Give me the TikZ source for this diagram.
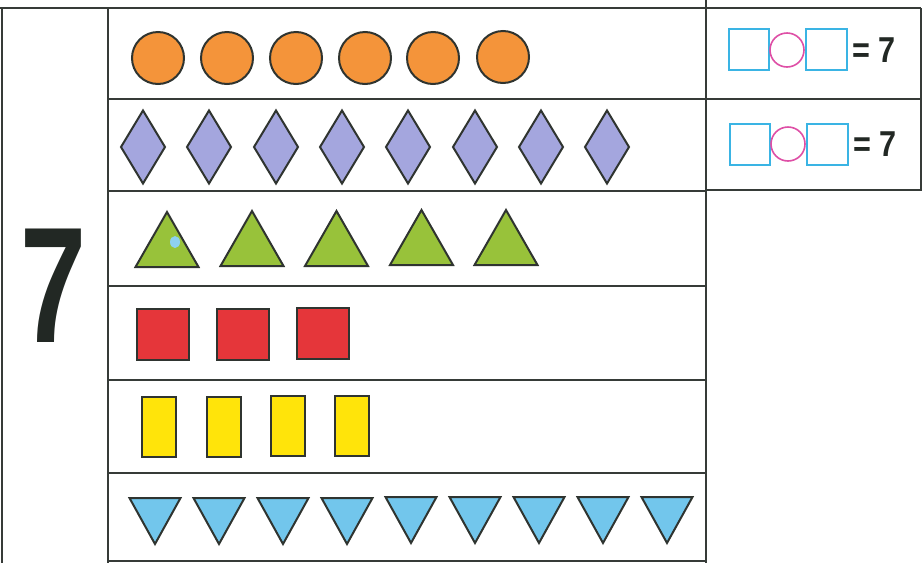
\documentclass[tikz,border=0pt]{standalone}
\usepackage{fontspec}
\setmainfont{Liberation Sans}
\usepackage{xcolor}
\usepackage{tikz}
\definecolor{WSLine}{HTML}{363B38}
\definecolor{WSEdge}{HTML}{2F3430}
\definecolor{WSOrange}{HTML}{F4943A}
\definecolor{WSLilac}{HTML}{A4A6DE}
\definecolor{WSGreen}{HTML}{98C23A}
\definecolor{WSRed}{HTML}{E5363A}
\definecolor{WSYellow}{HTML}{FFE40A}
\definecolor{WSSky}{HTML}{72C6EC}
\definecolor{WSCyan}{HTML}{3AB4E4}
\definecolor{WSPink}{HTML}{DE4FA6}
\definecolor{WSInk}{HTML}{222824}

\begin{document}
\begin{tikzpicture}[x=1pt,y=-1pt,
  grid/.style={draw=WSLine,line width=2.6pt},
  shp/.style={draw=WSEdge,line width=2pt},
  box/.style={draw=WSCyan,line width=1.6pt},
  ring/.style={draw=WSPink,line width=1.6pt}]
\path[use as bounding box] (0,0) rectangle (923,563);
% table lines
\draw[grid] (0,8) -- (921,8);
\draw[grid] (2,8) -- (2,563);
\draw[grid] (108,8) -- (108,563);
\draw[grid] (706,0) -- (706,563);
\draw[grid] (921,8) -- (921,190) -- (706,190);
\draw[grid] (108,99) -- (921,99);
\draw[grid] (108,191) -- (706,191);
\draw[grid] (108,286) -- (706,286);
\draw[grid] (108,380) -- (706,380);
\draw[grid] (108,473) -- (706,473);
\draw[grid] (108,561) -- (706,561);
% big number
\node[inner sep=0pt,text=WSInk,xscale=0.72,font=\fontsize{165}{165}\selectfont\bfseries] (seven) at (54,286) {7};
% circles
\filldraw[shp,fill=WSOrange] (158,58) circle (26pt);
\filldraw[shp,fill=WSOrange] (227,58) circle (26pt);
\filldraw[shp,fill=WSOrange] (296,58) circle (26pt);
\filldraw[shp,fill=WSOrange] (365,58) circle (26pt);
\filldraw[shp,fill=WSOrange] (433,58) circle (26pt);
\filldraw[shp,fill=WSOrange] (503,57) circle (26pt);
% diamonds
\filldraw[shp,fill=WSLilac] (143,110.5) -- ++(22,36.5) -- ++(-22,36.5) -- ++(-22,-36.5) -- cycle;
\filldraw[shp,fill=WSLilac] (209,110.5) -- ++(22,36.5) -- ++(-22,36.5) -- ++(-22,-36.5) -- cycle;
\filldraw[shp,fill=WSLilac] (276,110.5) -- ++(22,36.5) -- ++(-22,36.5) -- ++(-22,-36.5) -- cycle;
\filldraw[shp,fill=WSLilac] (342,110.5) -- ++(22,36.5) -- ++(-22,36.5) -- ++(-22,-36.5) -- cycle;
\filldraw[shp,fill=WSLilac] (408,110.5) -- ++(22,36.5) -- ++(-22,36.5) -- ++(-22,-36.5) -- cycle;
\filldraw[shp,fill=WSLilac] (475,110.5) -- ++(22,36.5) -- ++(-22,36.5) -- ++(-22,-36.5) -- cycle;
\filldraw[shp,fill=WSLilac] (541,110.5) -- ++(22,36.5) -- ++(-22,36.5) -- ++(-22,-36.5) -- cycle;
\filldraw[shp,fill=WSLilac] (607,110.5) -- ++(22,36.5) -- ++(-22,36.5) -- ++(-22,-36.5) -- cycle;
% triangles
\filldraw[shp,fill=WSGreen] (167,212) -- ++(31.5,55) -- ++(-63,0) -- cycle;
\fill[WSSky!80!white] (175,242) ellipse (5pt and 6pt);
\filldraw[shp,fill=WSGreen] (252,211) -- ++(31.5,55) -- ++(-63,0) -- cycle;
\filldraw[shp,fill=WSGreen] (336.5,211) -- ++(31.5,55) -- ++(-63,0) -- cycle;
\filldraw[shp,fill=WSGreen] (421.5,210) -- ++(31.5,55) -- ++(-63,0) -- cycle;
\filldraw[shp,fill=WSGreen] (506,210) -- ++(31.5,55) -- ++(-63,0) -- cycle;
% squares
\filldraw[shp,fill=WSRed] (137,309) rectangle (189,360);
\filldraw[shp,fill=WSRed] (217,309) rectangle (269,360);
\filldraw[shp,fill=WSRed] (297,308) rectangle (349,359);
% bars
\filldraw[shp,fill=WSYellow] (142,397) rectangle (176,457);
\filldraw[shp,fill=WSYellow] (207,397) rectangle (241,457);
\filldraw[shp,fill=WSYellow] (271,396) rectangle (305,456);
\filldraw[shp,fill=WSYellow] (335,396) rectangle (369,456);
% inverted triangles
\filldraw[shp,fill=WSSky] (129.5,498) -- ++(51,0) -- ++(-25.5,46) -- cycle;
\filldraw[shp,fill=WSSky] (193.5,498) -- ++(51,0) -- ++(-25.5,46) -- cycle;
\filldraw[shp,fill=WSSky] (257.5,498) -- ++(51,0) -- ++(-25.5,46) -- cycle;
\filldraw[shp,fill=WSSky] (321.5,498) -- ++(51,0) -- ++(-25.5,46) -- cycle;
\filldraw[shp,fill=WSSky] (385.5,497) -- ++(51,0) -- ++(-25.5,46) -- cycle;
\filldraw[shp,fill=WSSky] (449.5,497) -- ++(51,0) -- ++(-25.5,46) -- cycle;
\filldraw[shp,fill=WSSky] (513.5,497) -- ++(51,0) -- ++(-25.5,46) -- cycle;
\filldraw[shp,fill=WSSky] (577.5,497) -- ++(51,0) -- ++(-25.5,46) -- cycle;
\filldraw[shp,fill=WSSky] (641.5,497) -- ++(51,0) -- ++(-25.5,46) -- cycle;
% equations
\draw[box] (729,29) rectangle (769,70);
\draw[ring] (787,50) circle (17pt);
\draw[box] (806,29) rectangle (847,70);
\node[inner sep=0pt,anchor=west,text=WSInk,xscale=0.85,font=\fontsize{36}{36}\selectfont\bfseries] (eqA) at (852,50) {= 7};
\draw[box] (730,124) rectangle (770,165);
\draw[ring] (788,144) circle (17pt);
\draw[box] (807,124) rectangle (848,165);
\node[inner sep=0pt,anchor=west,text=WSInk,xscale=0.85,font=\fontsize{36}{36}\selectfont\bfseries] (eqB) at (853,144) {= 7};
\end{tikzpicture}
\end{document}
